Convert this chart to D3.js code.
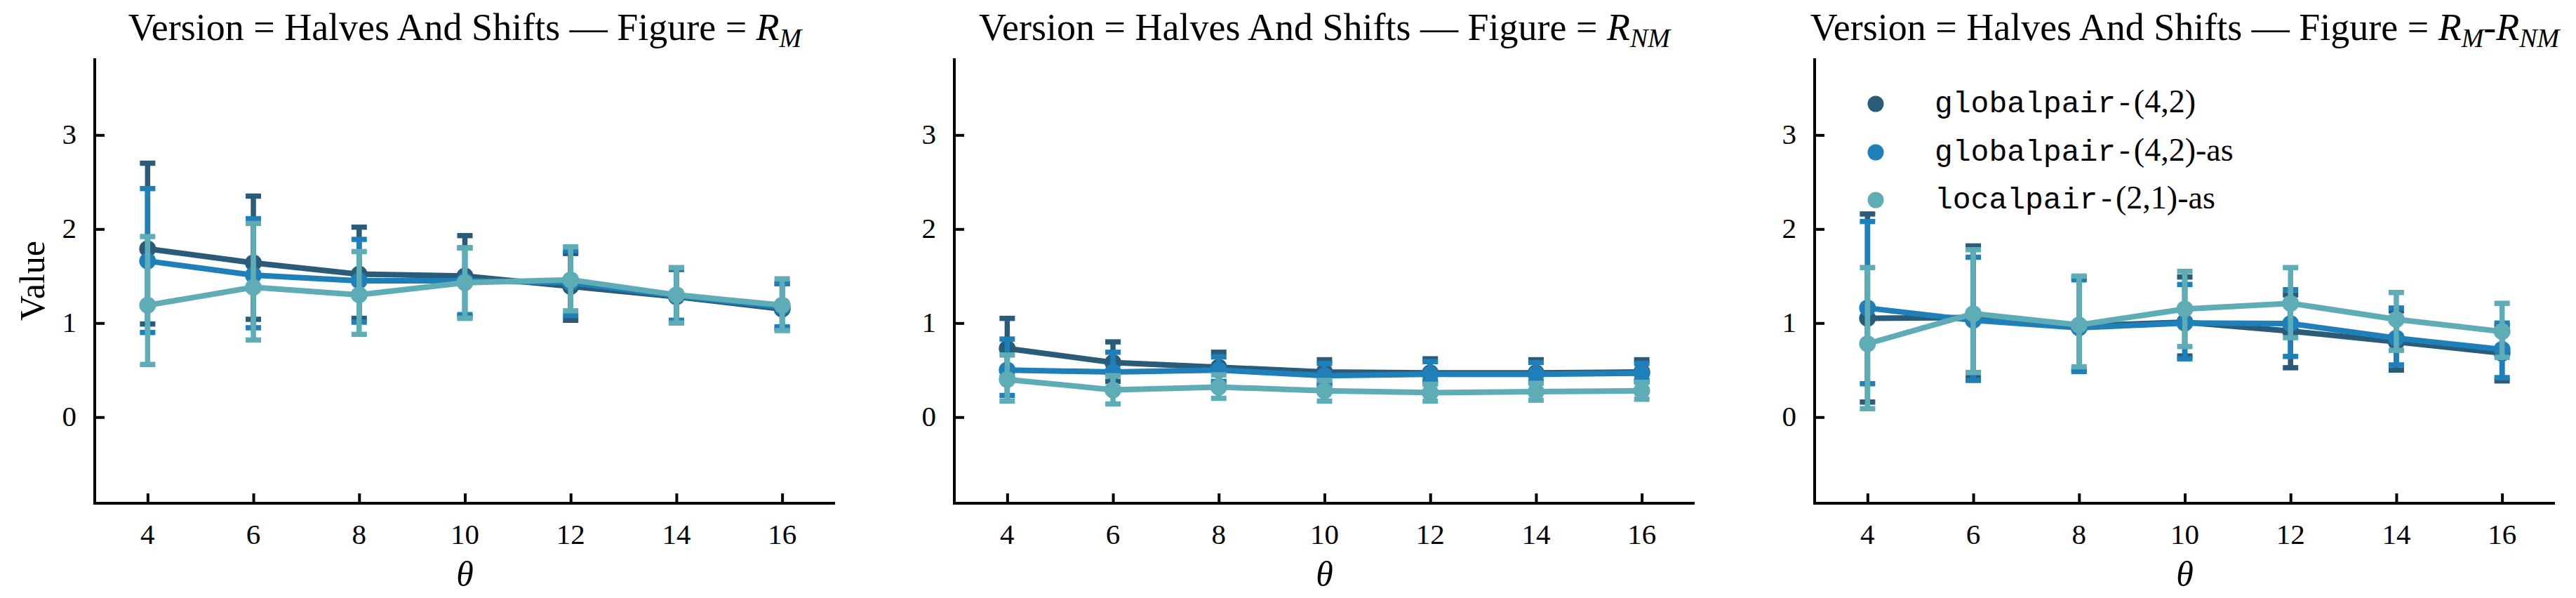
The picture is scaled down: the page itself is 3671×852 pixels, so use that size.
<!DOCTYPE html>
<html>
<head>
<meta charset="utf-8">
<script src="https://cdn.jsdelivr.net/npm/d3@7"></script>
<style>
  body { margin: 0; background: #fff; }
  text { font-family: "Liberation Serif", serif; fill: #000; }
</style>
</head>
<body>
<div id="chart"></div>
<script>
// data
var thetas = [4, 6, 8, 10, 12, 14, 16];
var seriesNames = ["globalpair-(4,2)", "globalpair-(4,2)-as", "localpair-(2,1)-as"];
var seriesColors = ["#2a5b78", "#1f80b9", "#5dacb6"];
var yTicks = [0, 1, 2, 3];

// R_M
var rmMean = [[1.79, 1.64, 1.52, 1.50, 1.39, 1.28, 1.15],
              [1.66, 1.51, 1.45, 1.45, 1.43, 1.29, 1.17],
              [1.19, 1.38, 1.30, 1.43, 1.46, 1.30, 1.19]];
var rmLow =  [[0.99, 1.04, 1.05, 1.07, 1.03, 1.01, 0.94],
              [0.90, 0.95, 1.01, 1.09, 1.08, 1.03, 0.96],
              [0.56, 0.82, 0.88, 1.05, 1.13, 1.00, 0.92]];
var rmHigh = [[2.70, 2.35, 2.02, 1.93, 1.74, 1.57, 1.42],
              [2.43, 2.11, 1.89, 1.80, 1.77, 1.58, 1.42],
              [1.92, 2.06, 1.76, 1.80, 1.81, 1.59, 1.47]];

// R_NM
var rnmMean = [[0.73, 0.58, 0.53, 0.48, 0.47, 0.47, 0.48],
               [0.50, 0.48, 0.50, 0.44, 0.455, 0.455, 0.467],
               [0.40, 0.29, 0.32, 0.28, 0.26, 0.27, 0.28]];
var rnmLow =  [[0.42, 0.38, 0.37, 0.36, 0.38, 0.37, 0.38],
               [0.23, 0.30, 0.38, 0.34, 0.37, 0.38, 0.39],
               [0.17, 0.14, 0.20, 0.17, 0.17, 0.18, 0.19]];
var rnmHigh = [[1.05, 0.80, 0.69, 0.61, 0.62, 0.61, 0.61],
               [0.83, 0.69, 0.64, 0.57, 0.59, 0.58, 0.57],
               [0.66, 0.44, 0.45, 0.39, 0.35, 0.36, 0.37]];

// R_M - R_NM
var diffMean = [[1.05, 1.06, 0.97, 1.01, 0.915, 0.80, 0.68],
                [1.16, 1.03, 0.95, 1.00, 0.995, 0.84, 0.72],
                [0.78, 1.10, 0.98, 1.15, 1.21, 1.04, 0.91]];
var diffLow =  [[0.16, 0.42, 0.50, 0.65, 0.525, 0.50, 0.385],
                [0.355, 0.39, 0.485, 0.62, 0.645, 0.555, 0.42],
                [0.09, 0.475, 0.535, 0.75, 0.845, 0.71, 0.635]];
var diffHigh = [[2.16, 1.82, 1.48, 1.49, 1.30, 1.13, 0.97],
                [2.08, 1.70, 1.46, 1.41, 1.355, 1.16, 1.00],
                [1.59, 1.78, 1.50, 1.55, 1.59, 1.325, 1.21]];

var panels = [
  {sub: ["M"], mean: rmMean, low: rmLow, high: rmHigh},
  {sub: ["NM"], mean: rnmMean, low: rnmLow, high: rnmHigh},
  {sub: ["M", "NM"], mean: diffMean, low: diffLow, high: diffHigh}
];

var svgWidth = 3671;
var svgHeight = 852;
var plotTop = 83;
var plotBottom = 717;
var plotWidth = 1055;
var panelLeft = [135, 1360, 2586];

var svg = d3.select("#chart")
  .append("svg")
  .attr("width", svgWidth)
  .attr("height", svgHeight);

var yScale = d3.scaleLinear()
  .domain([-0.916, 3.816])
  .range([plotBottom, plotTop]);

var xScale = d3.scaleLinear()
  .domain([3, 17])
  .range([0, plotWidth]);

panels.forEach(function(p, pi) {
  var g = svg.append("g").attr("transform", `translate(${panelLeft[pi]}, 0)`);

  // axes, ticks pointing inward
  var xAxis = d3.axisTop(xScale).tickValues(thetas).tickSize(14).tickFormat("");
  var yAxis = d3.axisRight(yScale).tickValues(yTicks).tickSize(14).tickFormat("");

  g.append("g").attr("transform", `translate(0, ${plotBottom})`).call(xAxis)
    .call(a => a.select(".domain").remove());
  g.append("g").call(yAxis)
    .call(a => a.select(".domain").remove());
  g.selectAll(".tick line").attr("stroke", "#000").attr("stroke-width", 4);

  g.append("line")
    .attr("x1", 0).attr("x2", plotWidth)
    .attr("y1", plotBottom).attr("y2", plotBottom)
    .attr("stroke", "#000").attr("stroke-width", 4);
  g.append("line")
    .attr("x1", 0).attr("x2", 0)
    .attr("y1", plotTop).attr("y2", plotBottom + 2)
    .attr("stroke", "#000").attr("stroke-width", 4);

  g.selectAll(".xlab")
    .data(thetas)
    .enter()
    .append("text")
    .attr("x", d => xScale(d))
    .attr("y", 775)
    .attr("text-anchor", "middle")
    .attr("font-size", "41px")
    .text(d => d);

  g.selectAll(".ylab")
    .data(yTicks)
    .enter()
    .append("text")
    .attr("x", -26)
    .attr("y", d => yScale(d) + 13)
    .attr("text-anchor", "end")
    .attr("font-size", "41px")
    .text(d => d);

  g.append("text")
    .attr("x", plotWidth / 2)
    .attr("y", 835)
    .attr("text-anchor", "middle")
    .attr("font-size", "50px")
    .style("font-style", "italic")
    .text("\u03b8");

  // title
  var title = g.append("text")
    .attr("x", plotWidth / 2)
    .attr("y", 57)
    .attr("text-anchor", "middle")
    .attr("font-size", "54px");
  title.append("tspan").text("Version = Halves And Shifts \u2014 Figure = ");
  p.sub.forEach(function(s, si) {
    if (si > 0) title.append("tspan").attr("dy", -10).text("-");
    title.append("tspan").style("font-style", "italic").text("R");
    title.append("tspan").attr("dy", 10).attr("font-size", "38px").style("font-style", "italic").text(s);
  });

  var line = d3.line()
    .x((d, i) => xScale(thetas[i]))
    .y(d => yScale(d));

  p.mean.forEach(function(vals, si) {
    var col = seriesColors[si];
    var sg = g.append("g");

    sg.append("path")
      .datum(vals)
      .attr("d", line)
      .attr("fill", "none")
      .attr("stroke", col)
      .attr("stroke-width", 8);

    var bars = sg.selectAll(".bar")
      .data(thetas)
      .enter()
      .append("g");
    bars.append("line")
      .attr("x1", d => xScale(d)).attr("x2", d => xScale(d))
      .attr("y1", (d, i) => yScale(p.low[si][i]))
      .attr("y2", (d, i) => yScale(p.high[si][i]))
      .attr("stroke", col).attr("stroke-width", 7.5);
    bars.append("line")
      .attr("x1", d => xScale(d) - 11).attr("x2", d => xScale(d) + 11)
      .attr("y1", (d, i) => yScale(p.low[si][i]))
      .attr("y2", (d, i) => yScale(p.low[si][i]))
      .attr("stroke", col).attr("stroke-width", 7.5);
    bars.append("line")
      .attr("x1", d => xScale(d) - 11).attr("x2", d => xScale(d) + 11)
      .attr("y1", (d, i) => yScale(p.high[si][i]))
      .attr("y2", (d, i) => yScale(p.high[si][i]))
      .attr("stroke", col).attr("stroke-width", 7.5);

    sg.selectAll("circle")
      .data(vals)
      .enter()
      .append("circle")
      .attr("cx", (d, i) => xScale(thetas[i]))
      .attr("cy", d => yScale(d))
      .attr("r", 12)
      .attr("fill", col);
  });

  if (pi == 0) {
    g.append("text")
      .attr("transform", `translate(-72, ${(plotTop + plotBottom) / 2}) rotate(-90)`)
      .attr("text-anchor", "middle")
      .attr("font-size", "50px")
      .text("Value");
  }

  if (pi == 2) {
    var legendY = [148, 217, 285];
    var leg = g.selectAll(".legend")
      .data(seriesNames)
      .enter()
      .append("g")
      .attr("transform", (d, i) => `translate(${2673 - panelLeft[2]}, ${legendY[i]})`);
    leg.append("circle")
      .attr("r", 11.5)
      .attr("fill", (d, i) => seriesColors[i]);
    var lt = leg.append("text")
      .attr("x", 2757 - 2673)
      .attr("y", 12)
      .attr("font-size", "46px");
    lt.each(function(d) {
      var t = d3.select(this);
      var m = d.match(/^([a-z]+-)(\(\d,\d\))(.*)$/);
      t.append("tspan").style("font-family", "Liberation Mono").attr("font-size", "43px").text(m[1]);
      t.append("tspan").text(m[2] + m[3]);
    });
  }
});
</script>
</body>
</html>
